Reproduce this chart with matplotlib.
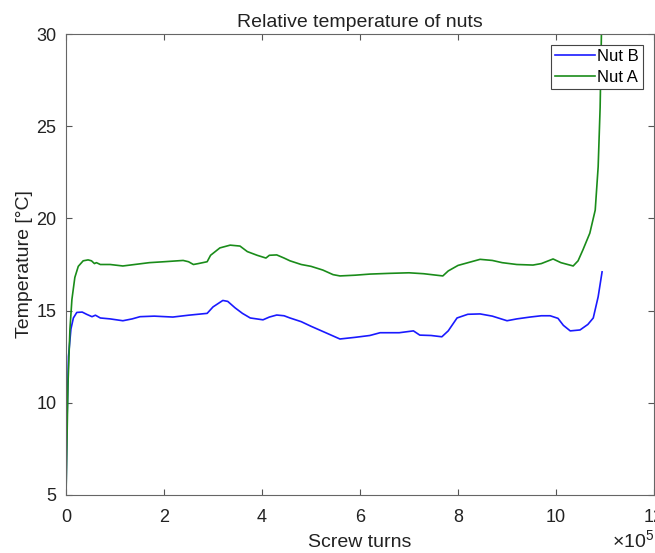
import matplotlib
matplotlib.use("Agg")
import matplotlib.pyplot as plt
import numpy as np

plt.rcParams['font.family'] = ['Liberation Sans', 'DejaVu Sans']
plt.rcParams['mathtext.fontset'] = 'custom'
plt.rcParams['mathtext.rm'] = 'Liberation Sans'
plt.rcParams['mathtext.it'] = 'Liberation Sans'

# x in screw turns
nut_a_x = [0, 4e3, 8e3, 12e3, 18e3, 25e3, 35e3, 45e3, 52e3, 58e3, 62e3, 70e3, 90e3,
           116e3, 140e3, 170e3, 200e3, 239e3, 250e3, 260e3, 270e3, 288e3, 295e3, 314e3,
           335e3, 355e3, 370e3, 390e3, 408e3, 415e3, 430e3, 445e3, 457e3, 480e3, 500e3,
           524e3, 545e3, 559e3, 590e3, 620e3, 660e3, 700e3, 730e3, 769e3, 780e3, 800e3,
           845e3, 870e3, 890e3, 920e3, 953e3, 970e3, 994e3, 1010e3, 1035e3, 1045e3,
           1055e3, 1069e3, 1080e3, 1086e3, 1090e3, 1093e3]
nut_a_y = [5.0, 11.0, 14.0, 15.6, 16.8, 17.4, 17.7, 17.75, 17.7, 17.55, 17.6, 17.5, 17.5,
           17.42, 17.5, 17.6, 17.65, 17.72, 17.65, 17.5, 17.55, 17.65, 18.0, 18.4,
           18.55, 18.5, 18.2, 18.0, 17.85, 18.0, 18.02, 17.85, 17.7, 17.5, 17.4,
           17.2, 16.95, 16.88, 16.92, 16.98, 17.02, 17.05, 17.0, 16.88, 17.15, 17.45,
           17.78, 17.72, 17.6, 17.5, 17.47, 17.55, 17.8, 17.6, 17.42, 17.7,
           18.3, 19.2, 20.45, 22.8, 26.0, 30.5]

nut_b_x = [0, 2e3, 5e3, 10e3, 15e3, 22e3, 33e3, 42e3, 53e3, 60e3, 70e3, 90e3, 116e3,
           135e3, 151e3, 180e3, 218e3, 250e3, 288e3, 300e3, 320e3, 330e3, 345e3, 360e3,
           376e3, 402e3, 415e3, 430e3, 445e3, 457e3, 480e3, 500e3, 530e3, 559e3, 590e3,
           620e3, 641e3, 680e3, 709e3, 722e3, 745e3, 767e3, 780e3, 798e3, 820e3, 845e3,
           870e3, 900e3, 920e3, 947e3, 970e3, 988e3, 1004e3, 1015e3, 1029e3, 1049e3,
           1065e3, 1076e3, 1086e3, 1094e3]
nut_b_y = [5.0, 9.0, 12.5, 14.0, 14.6, 14.9, 14.92, 14.8, 14.67, 14.75, 14.6, 14.55, 14.45,
           14.55, 14.67, 14.7, 14.65, 14.75, 14.85, 15.2, 15.55, 15.5, 15.15, 14.85,
           14.6, 14.5, 14.65, 14.76, 14.72, 14.6, 14.4, 14.15, 13.8, 13.46, 13.55,
           13.65, 13.8, 13.8, 13.9, 13.67, 13.65, 13.58, 13.9, 14.6, 14.8, 14.82,
           14.7, 14.45, 14.55, 14.65, 14.72, 14.72, 14.58, 14.2, 13.9, 13.95,
           14.25, 14.6, 15.75, 17.1]

x_ticks = [0, 2e5, 4e5, 6e5, 8e5, 10e5, 12e5]
x_tick_labels = ['0', '2', '4', '6', '8', '10', '12']
y_ticks = [5, 10, 15, 20, 25, 30]

fig = plt.figure(figsize=(6.55, 5.53), dpi=100)
ax = fig.add_axes([0.1008, 0.1049, 0.8977, 0.8336])

ax.plot(nut_b_x, nut_b_y, color=(0.1, 0.1, 1.0), lw=1.2, label='Nut B')
ax.plot(nut_a_x, nut_a_y, color=(0.1, 0.55, 0.1), lw=1.2, label='Nut A')

ax.set_xlim(0, 12e5)
ax.set_ylim(5, 30)
ax.set_xticks(x_ticks)
ax.set_xticklabels(x_tick_labels)
ax.set_yticks(y_ticks)
ax.tick_params(direction='in', labelsize=13, length=4, color='#555555', labelcolor='#222222',
               top=True, right=True)
ax.tick_params(axis='x', pad=10)
ax.tick_params(axis='y', pad=7)
for s in ax.spines.values():
    s.set_color('#666666')
    s.set_linewidth(0.8)

ax.set_title('Relative temperature of nuts', fontsize=14, color='#222222', pad=5)
ax.set_xlabel('Screw turns', fontsize=14, color='#222222', labelpad=6)
ax.set_ylabel('Temperature [°C]', fontsize=14, color='#222222', labelpad=2)

fig.text(0.935, 0.010, r'$\times\mathregular{10^5}$', fontsize=14, color='#222222')

leg = ax.legend(loc='upper right', fontsize=12, frameon=True, fancybox=False,
                edgecolor='#444444', framealpha=1, handlelength=2.4,
                handletextpad=0.15, borderpad=0.25, labelspacing=0.35,
                borderaxespad=0.65)
leg.get_frame().set_linewidth(0.8)

fig.savefig('out.png', dpi=100)
